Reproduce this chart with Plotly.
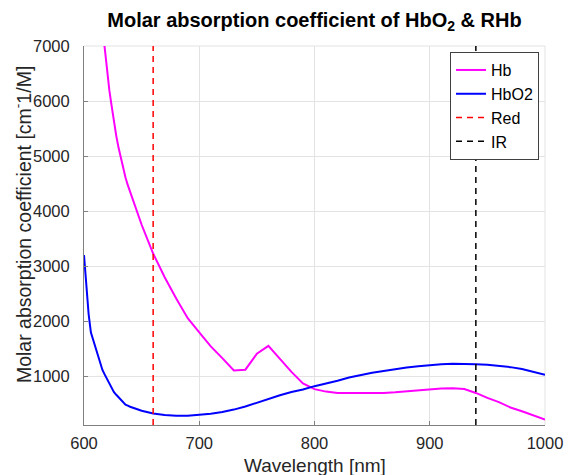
import plotly.graph_objects as go

wavelength = [600, 602, 604, 606, 608, 610, 612, 614, 616, 618, 620, 622, 624, 626, 628,
              630, 632, 634, 636, 638, 640, 650, 660, 670, 680, 690, 700, 710, 720, 730,
              740, 750, 760, 770, 780, 790, 800, 810, 820, 830, 840, 850, 860, 870, 880,
              890, 900, 910, 920, 930, 940, 950, 960, 970, 980, 990, 1000]
hb = [14677, 13622, 12568, 11513, 10478, 9444, 8591, 7762, 7345, 6927, 6510, 6193, 5907,
      5620, 5367, 5149, 4950, 4770, 4610, 4470, 4345, 3750, 3227, 2795, 2408, 2052, 1794,
      1540, 1326, 1102, 1116, 1405, 1549, 1312, 1075, 865, 762, 717, 694, 693, 692, 691,
      694, 706, 726, 744, 762, 775, 777, 764, 693, 602, 526, 429, 360, 283, 207]
hbo2 = [3200, 2664, 2128, 1789, 1648, 1506, 1364, 1223, 1110, 1026, 942, 858, 774, 708,
        659, 610, 561, 512, 481, 462, 442, 368, 320, 294, 278, 276, 290, 314, 348, 390,
        446, 518, 586, 650, 710, 756, 816, 864, 916, 974, 1022, 1058, 1092, 1128, 1154,
        1178, 1198, 1214, 1224, 1222, 1214, 1204, 1186, 1162, 1128, 1080, 1024]
red_nm = 660
ir_nm = 940
y_range = [110, 7000]
x_ticks = [600, 700, 800, 900, 1000]
y_ticks = [1000, 2000, 3000, 4000, 5000, 6000, 7000]

font = "Liberation Sans, Arial, Helvetica, sans-serif"
fig = go.Figure()
fig.add_trace(go.Scatter(x=wavelength, y=hb, mode="lines", name="Hb",
                         line=dict(color="#FF00FF", width=2)))
fig.add_trace(go.Scatter(x=wavelength, y=hbo2, mode="lines", name="HbO2",
                         line=dict(color="#0000FF", width=2)))
fig.add_trace(go.Scatter(x=[red_nm, red_nm], y=y_range, mode="lines", name="Red",
                         line=dict(color="#FF0000", width=1.5, dash="6px,5px")))
fig.add_trace(go.Scatter(x=[ir_nm, ir_nm], y=y_range, mode="lines", name="IR",
                         line=dict(color="#000000", width=1.5, dash="6px,5px")))

# The page body has an 8px margin, so the figure is sized to fit the 576x475 window.
fig.update_layout(
    width=568, height=467,
    margin=dict(l=76, r=31, t=38, b=50),
    paper_bgcolor="white", plot_bgcolor="white",
    font=dict(family=font, size=16.5, color="#262626"),
    title=dict(text="<b>Molar absorption coefficient of HbO<sub>2</sub> & RHb</b>",
               x=(314.5 - 8) / 568, xanchor="center", y=0.974, yanchor="middle",
               font=dict(size=20, color="black", family=font)),
    legend=dict(x=0.987, y=0.984, xanchor="right", yanchor="top",
                bgcolor="white", bordercolor="#404040", borderwidth=1,
                font=dict(size=16, color="black"), itemwidth=30,
                tracegroupgap=0),
    showlegend=True,
    annotations=[
        dict(text="Wavelength [nm]", xref="paper", yref="paper", x=0.5, y=-0.108,
             xanchor="center", yanchor="middle", showarrow=False,
             font=dict(size=19, color="#262626")),
        dict(text="Molar absorption coefficient [cm<sup>-</sup>1/M]", xref="paper",
             yref="paper", x=-0.134, y=0.528, xanchor="center", yanchor="middle",
             textangle=-90, showarrow=False, font=dict(size=19.5, color="#262626")),
    ],
)
fig.update_xaxes(range=[600, 1000], tickvals=x_ticks, showgrid=True, gridcolor="#e3e3e3",
                 zeroline=False, showline=True, linecolor="#808080", linewidth=1,
                 ticks="inside", ticklen=4, tickcolor="#808080", automargin=False,
                 ticklabelstandoff=3)
fig.update_yaxes(range=y_range, tickvals=y_ticks, showgrid=True, gridcolor="#e3e3e3",
                 zeroline=False, showline=True, linecolor="#808080", linewidth=1,
                 ticks="inside", ticklen=4, tickcolor="#808080", automargin=False,
                 ticklabelstandoff=10)
fig.add_shape(type="line", xref="paper", yref="paper", x0=0, x1=1, y0=1, y1=1,
              line=dict(color="#e3e3e3", width=1), layer="below")
fig.add_shape(type="line", xref="paper", yref="paper", x0=1, x1=1, y0=0, y1=1,
              line=dict(color="#e3e3e3", width=1), layer="below")

fig.write_html("out.html")
